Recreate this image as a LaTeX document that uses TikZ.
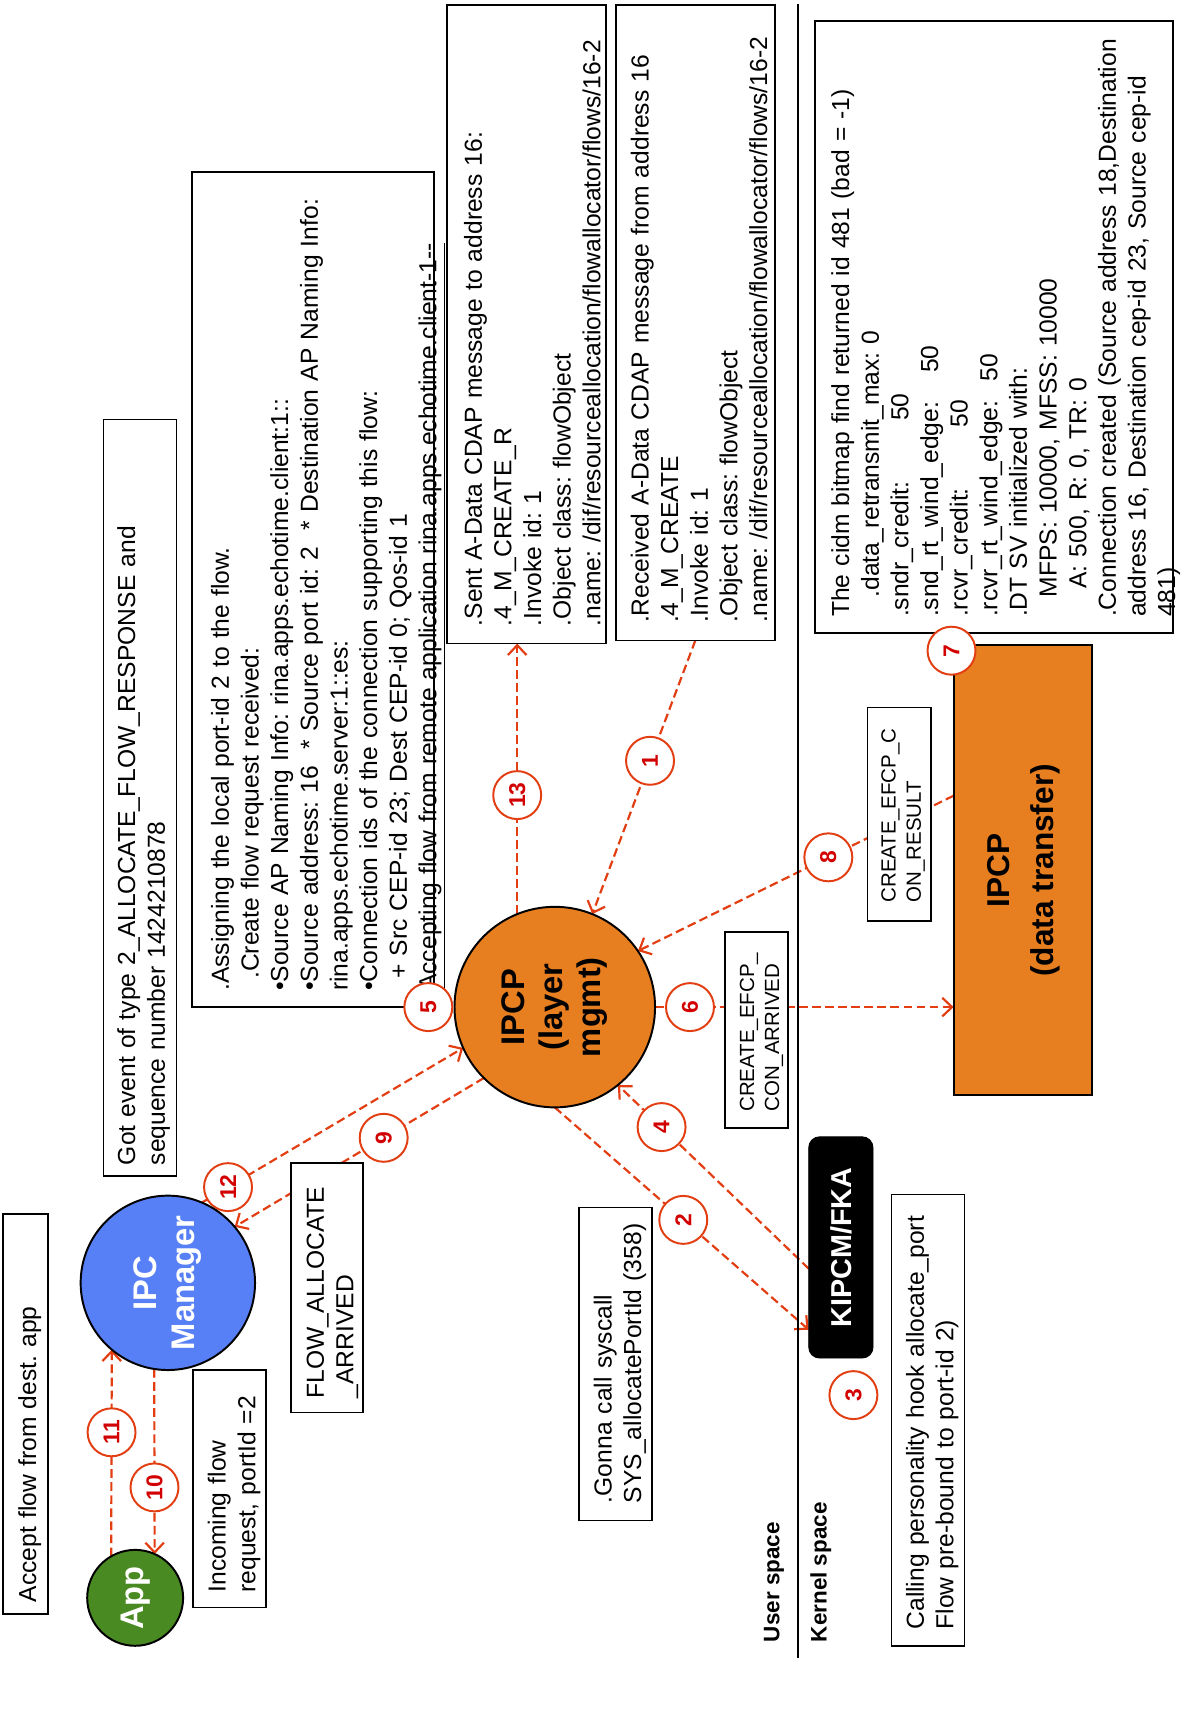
\documentclass[tikz,border=0pt]{standalone}
\usepackage{fontspec}
\setmainfont{Liberation Sans}
\usepackage{graphicx}
\usetikzlibrary{arrows.meta,calc}
\pgfdeclarelayer{bg}
\pgfsetlayers{bg,main}
\definecolor{flowred}{RGB}{226,62,18}
\definecolor{numred}{RGB}{210,0,0}
\definecolor{ipcporange}{RGB}{231,126,32}
\definecolor{ipcmblue}{RGB}{88,128,246}
\definecolor{appgreen}{RGB}{74,138,34}
\frenchspacing
\newcommand{\rtab}[2]{\rotatebox{90}{\makebox[#1][l]{\begin{tabular}{@{}l@{}}#2\end{tabular}}}}
\newcommand{\boxtxt}[3]{\noindent\hspace*{#1}\rtab{#2}{#3}}
\newcommand{\rc}[1]{\rotatebox{90}{\begin{tabular}{@{}c@{}}#1\end{tabular}}}
\tikzset{
  txtbox/.style={draw, line width=0.75pt, fill=white, inner sep=0pt, outer sep=0pt, align=left, font=\fontsize{11.3}{13.6}\selectfont},
  smallbox/.style={txtbox, font=\fontsize{9.4}{11.5}\selectfont},
  flowarrow/.style={draw=flowred, line width=1pt, dash pattern=on 4pt off 2pt, -{Straight Barb[length=4.5pt,width=8.5pt]}},
  numlbl/.style={circle, solid, draw=flowred, line width=0.9pt, fill=white, minimum size=22pt, inner sep=0pt, text=numred, font=\bfseries\fontsize{10.5}{12}\selectfont},
  bubble/.style={circle, draw=black, line width=0.9pt, inner sep=0pt, outer sep=0pt, text=white, font=\bfseries\fontsize{15}{17.5}\selectfont},
  spacelbl/.style={anchor=south, inner sep=0pt, font=\bfseries\fontsize{10.3}{12}\selectfont}
}
\begin{document}
\frenchspacing
\begin{tikzpicture}[x=0.5pt,y=-0.5pt]
\useasboundingbox (0,0) rectangle (1088,1568);
\draw[line width=1pt] (732,4) -- (732,1521);

\node[spacelbl] (userspace) at (710,1507) {\rotatebox{90}{User space}};
\node[spacelbl] (kernelspace) at (753,1507) {\rotatebox{90}{Kernel space}};

% text boxes
\node[txtbox, text width=20.5pt, minimum height=183.5pt] (accept) at (23.5,1297.5)
  {\boxtxt{5.5pt}{172.5pt}{Accept flow from dest. app}};
\node[txtbox, text width=33.5pt, minimum height=109pt] (incoming) at (210.5,1366)
  {\boxtxt{5.5pt}{95pt}{Incoming flow\\request, portId =2}};
\node[txtbox, text width=33.5pt, minimum height=347pt] (gotevent) at (128.5,732)
  {\boxtxt{5pt}{337pt}{Got event of type 2\_ALLOCATE\_FLOW\_RESPONSE and\\sequence number 1424210878}};
\node[txtbox, text width=33pt, minimum height=114.5pt] (flowalloc) at (300,1181.5)
  {\boxtxt{5.5pt}{101.5pt}{FLOW\_ALLOCATE\\\_ARRIVED}};
\node[txtbox, text width=111pt, minimum height=383pt] (assign) at (287,541)
  {\boxtxt{7.5pt}{368pt}{.Assigning the local port-id 2 to the flow.\\
  \hspace*{5.5pt}.Create flow request received:\\
  •Source AP Naming Info: rina.apps.echotime.client:1::\\
  •Source address: 16\ \ * Source port id: 2\ \ * Destination AP Naming Info:\\
  rina.apps.echotime.server:1::es:\\
  •Connection ids of the connection supporting this flow:\\
  \hspace*{5.5pt}+ Src CEP-id 23; Dest CEP-id 0; Qos-id 1\\
  \underline{Accepting flow from remote application rina.apps.echotime.client-1-{}-}}};
\node[txtbox, text width=73pt, minimum height=293pt] (sent) at (483,297.5)
  {\boxtxt{6.5pt}{277pt}{.Sent A-Data CDAP message to address 16:\\
  .4\_M\_CREATE\_R\\
  .Invoke id: 1\\
  .Object class: flowObject\\
  .name: /dif/resourceallocation/flowallocator/flows/16-2}};
\node[txtbox, text width=73pt, minimum height=291.5pt] (received) at (638,296)
  {\boxtxt{5.5pt}{275.5pt}{.Received A-Data CDAP message from address 16\\
  .4\_M\_CREATE\\
  .Invoke id: 1\\
  .Object class: flowObject\\
  .name: /dif/resourceallocation/flowallocator/flows/16-2}};
\node[txtbox, text width=164pt, minimum height=281pt] (cidm) at (912,300)
  {\boxtxt{6pt}{266pt}{The cidm bitmap find returned id 481 (bad = -1)\\
  \hspace*{9pt}.data\_retransmit\_max: 0\\
  \makebox[90pt][l]{.sndr\_credit:}50\\
  \makebox[112pt][l]{.snd\_rt\_wind\_edge:}50\\
  \makebox[87pt][l]{.rcvr\_credit:}50\\
  \makebox[108pt][l]{.rcvr\_rt\_wind\_edge:}50\\
  .DT SV initialized with:\\
  \hspace*{9pt}MFPS: 10000, MFSS: 10000\\
  \hspace*{13pt}A: 500, R: 0, TR: 0\\
  .Connection created (Source address 18,Destination\\
  address 16, Destination cep-id 23, Source cep-id\\
  481)}};
\node[txtbox, text width=33.5pt, minimum height=143.5pt] (gonna) at (564.5,1251.5)
  {\boxtxt{5.5pt}{127.5pt}{.Gonna call syscall\\SYS\_allocatePortId (358)}};
\node[txtbox, text width=33.5pt, minimum height=207pt] (calling) at (851.5,1303)
  {\boxtxt{5.25pt}{192pt}{Calling personality hook allocate\_port\\Flow pre-bound to port-id 2)}};
\node[smallbox, text width=29pt, minimum height=98pt] (efcpres) at (825,747)
  {\boxtxt{4.85pt}{81pt}{CREATE\_EFCP\_C\\ON\_RESULT}};
\node[smallbox, text width=29pt, minimum height=90pt] (efcparr) at (694,945)
  {\boxtxt{5.35pt}{75pt}{CREATE\_EFCP\_\\CON\_ARRIVED}};

% main entities
\node[bubble, fill=appgreen, minimum size=44pt] (app) at (124,1466) {\rotatebox{90}{App}};
\node[bubble, fill=ipcmblue, minimum size=80pt] (ipcm) at (154,1177) {\rc{IPC\\Manager}};
\node[bubble, fill=ipcporange, text=black, minimum size=92pt] (ipcp) at (509,924) {\rc{IPCP\\(layer\\mgmt)}};
\node[draw, line width=0.9pt, fill=ipcporange, minimum width=63.5pt, minimum height=206.5pt,
  inner sep=0pt, outer sep=0pt, font=\bfseries\fontsize{14.5}{20}\selectfont] (dt) at (938.5,798.5)
  {\rc{IPCP\\(data transfer)}};
\node[draw, fill=black, rounded corners=5pt, minimum width=29.5pt, minimum height=101.5pt,
  inner sep=0pt, outer sep=0pt, text=white, font=\bfseries\fontsize{13.2}{15}\selectfont] (kipcm) at (771.5,1144.5)
  {\rotatebox{90}{KIPCM/FKA}};

% standalone step numbers
\node[numlbl] (l3) at (783,1280) {\rotatebox{90}{3}};
\node[numlbl] (l5) at (393,924) {\rotatebox{90}{5}};
\node[numlbl] (l7) at (873,597) {\rotatebox{90}{7}};

% connectors
\begin{pgfonlayer}{bg}
\draw[flowarrow] (received.south) -- node[numlbl,pos=0.44] (l1) {\rotatebox{90}{1}} (ipcp.68);
\draw[flowarrow] (ipcp.south) -- node[numlbl,pos=0.506] (l2) {\rotatebox{90}{2}} ([yshift=-37.75pt]kipcm.west);
\draw[flowarrow] ([yshift=-9.75pt]kipcm.west) -- node[numlbl,pos=0.771] (l4) {\rotatebox{90}{4}} (ipcp.309);
\draw[flowarrow] (ipcp.east) -- node[numlbl,pos=0.117] (l6) {\rotatebox{90}{6}} (ipcp.east -| dt.west);
\draw[flowarrow] ([yshift=34.25pt]dt.west) -- node[numlbl,pos=0.397] (l8) {\rotatebox{90}{8}} (ipcp.34);
\draw[flowarrow] (ipcp.225) -- node[numlbl,pos=0.402] (l9) {\rotatebox{90}{9}} (ipcm.40);
\draw[flowarrow] (ipcm.261) -- node[numlbl,pos=0.64] (l10) {\rotatebox{90}{10}} (app.66);
\draw[flowarrow] (app.120) -- node[numlbl,pos=0.6] (l11) {\rotatebox{90}{11}} (ipcm.230);
\draw[flowarrow] (ipcm.67) -- node[numlbl,pos=0.1] (l12) {\rotatebox{90}{12}} (ipcp.204);
\draw[flowarrow] (ipcp.112) -- node[numlbl,pos=0.44] (l13) {\rotatebox{90}{13}} (ipcp.112 |- sent.south);
\end{pgfonlayer}
\end{tikzpicture}
\end{document}
